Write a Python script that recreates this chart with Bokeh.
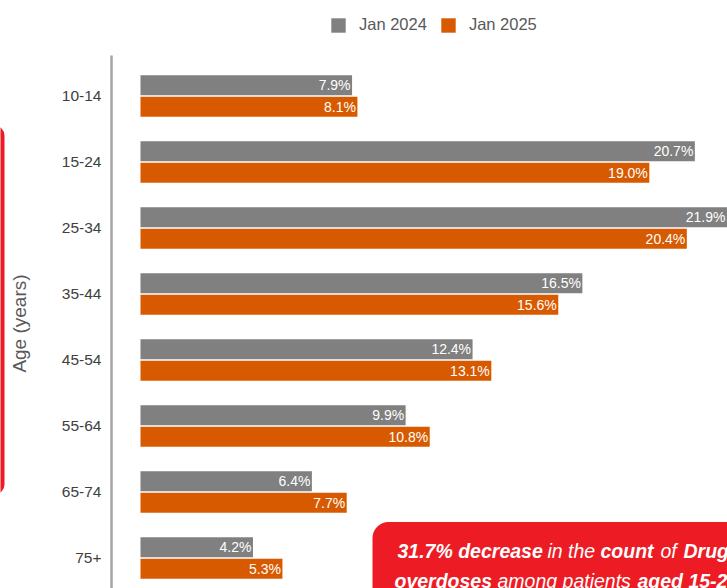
from bokeh.plotting import figure
from bokeh.layouts import row
from bokeh.models import (Range1d, FixedTicker, ColumnDataSource, Legend, LegendItem,
                          BoxAnnotation, Label)
from bokeh.transform import dodge
from bokeh.core.properties import value
from bokeh.embed import file_html
from bokeh.resources import INLINE

# ---- data ----
age_groups = ["10-14", "15-24", "25-34", "35-44", "45-54", "55-64", "65-74", "75+"]
jan_2024 = [7.9, 20.7, 21.9, 16.5, 12.4, 9.9, 6.4, 4.2]
jan_2025 = [8.1, 19.0, 20.4, 15.6, 13.1, 10.8, 7.7, 5.3]
series_names = ["Jan 2024", "Jan 2025"]
colors = ["#808080", "#D85A00"]
axis_title = "Age (years)"
callout_line1 = [("31.7% decrease", "bold italic"), ("in the", "italic"),
                 ("count", "bold italic"), ("of", "italic"), ("Drug", "bold italic")]
callout_line2 = [("overdoses", "bold italic"), ("among patients", "italic"),
                 ("aged 15-24", "bold italic")]

FONT = "Liberation Sans"
RED = "#ED1C24"
H = 588
STRIP_W = 5
MAIN_X = STRIP_W    # page x where the main figure starts
W = 727 - MAIN_X

# layout helpers (page pixel -> data); frame spans page x 111..727, y 0..588
FR_L, FR_R, FR_T, FR_B = 111, 727, 0, 588
AXIS_TOP = 55
X0_PX = 140.0
PPU_X = 26.78
Y0_PX = 95.5
PPU_Y = 66.0


def xd(px):
    return (px - X0_PX) / PPU_X


def yd(py):
    return (py - Y0_PX) / PPU_Y


idx = list(range(len(age_groups)))
src = ColumnDataSource(dict(
    idx=idx, age=age_groups, a=jan_2024, b=jan_2025,
    la=[f"{v:.1f}%" for v in jan_2024],
    lb=[f"{v:.1f}%" for v in jan_2025],
))

# thin strip at the far left: edge of a neighbouring red panel
strip = figure(width=STRIP_W, height=H, output_backend="svg", toolbar_location=None,
               x_range=Range1d(0, STRIP_W), y_range=Range1d(H, 0),
               x_axis_location=None, y_axis_location=None,
               min_border_left=0, min_border_right=0, min_border_top=0, min_border_bottom=0)
strip.xgrid.visible = False
strip.ygrid.visible = False
strip.outline_line_color = None
strip.add_layout(BoxAnnotation(left=-30, right=4, top=125, bottom=494,
                               fill_color=RED, fill_alpha=1.0, line_color=None,
                               border_radius=10))

p = figure(width=W, height=H, output_backend="svg", toolbar_location=None,
           x_range=Range1d(xd(FR_L), xd(FR_R)), y_range=Range1d(yd(FR_B), yd(FR_T)),
           x_axis_location=None,
           min_border_left=FR_L - MAIN_X, min_border_top=0,
           min_border_right=0, min_border_bottom=0)

OFF = 0.1636
BH = 0.303
r1 = p.hbar(y=dodge("idx", -OFF, range=p.y_range), left=0, right="a", height=BH,
            fill_color=colors[0], line_color=None, source=src)
r2 = p.hbar(y=dodge("idx", OFF, range=p.y_range), left=0, right="b", height=BH,
            fill_color=colors[1], line_color=None, source=src)

for col, lab, off in (("a", "la", -OFF), ("b", "lb", OFF)):
    p.text(x=col, y=dodge("idx", off, range=p.y_range), text=lab, source=src,
           text_align="right", text_baseline="middle", x_offset=-1.5,
           text_color="white", text_font_size="14px", text_font=value(FONT))

LEG_H = 19
legend = Legend(items=[LegendItem(label=series_names[0], renderers=[r1]),
                       LegendItem(label=series_names[1], renderers=[r2])],
                orientation="horizontal",
                location=(329 - FR_L, (FR_B - FR_T) - (15 + LEG_H)),
                padding=0, margin=0, spacing=12, label_standoff=12,
                glyph_width=18, glyph_height=18, label_height=18,
                label_text_font=FONT, label_text_font_size="16.5px",
                label_text_color="#595959",
                border_line_color=None, background_fill_alpha=0)
p.add_layout(legend)

# axes / grid
ax = p.yaxis[0]
ax.ticker = FixedTicker(ticks=idx)
ax.major_label_overrides = {i: g for i, g in enumerate(age_groups)}
ax.bounds = (yd(AXIS_TOP), yd(FR_B))
ax.axis_line_color = "#A6A6A6"
ax.axis_line_width = 2.5
ax.major_tick_line_color = None
ax.minor_tick_line_color = None
ax.major_tick_out = 0
ax.major_tick_in = 0
ax.minor_tick_out = 0
ax.minor_tick_in = 0
ax.major_label_standoff = 10
ax.major_label_text_font = FONT
ax.major_label_text_font_size = "15.5px"
ax.major_label_text_color = "#404040"
# trailing no-break spaces move the centred title down to the middle of the axis line
ax.axis_label = axis_title + "\u00a0" * 11
ax.axis_label_text_font = FONT
ax.axis_label_text_font_size = "19px"
ax.axis_label_text_font_style = "normal"
ax.axis_label_text_color = "#595959"
ax.axis_label_standoff = 29
p.xgrid.visible = False
p.ygrid.visible = False
p.outline_line_color = None

# callout box
box = BoxAnnotation(left=xd(372), right=xd(1000), top=yd(521.5), bottom=yd(800),
                    fill_color=RED, fill_alpha=1.0, line_color=None,
                    border_radius=16)
p.add_layout(box)

line1_x = [397, 547, 600, 660, 683]
line2_x = [394, 497, 637]
for (txt, style), px in zip(callout_line1, line1_x):
    p.add_layout(Label(x=xd(px), y=yd(550), text=txt, text_font=FONT,
                       text_font_style=style, text_font_size="19.5px",
                       text_color="white", text_baseline="alphabetic"))
for (txt, style), px in zip(callout_line2, line2_x):
    p.add_layout(Label(x=xd(px), y=yd(580.5), text=txt, text_font=FONT,
                       text_font_style=style, text_font_size="19.5px",
                       text_color="white", text_baseline="alphabetic"))

layout = row(strip, p, spacing=0)
open("out.html", "w").write(file_html(layout, INLINE))
